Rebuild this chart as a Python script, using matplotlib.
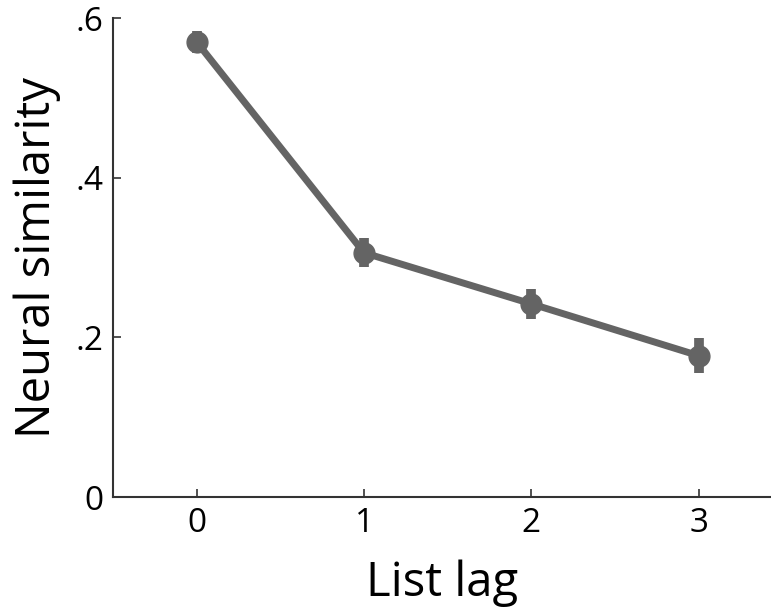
import matplotlib.pyplot as plt

lags = [0, 1, 2, 3]
similarity = [0.570, 0.306, 0.242, 0.177]
sem = [0.014, 0.018, 0.019, 0.022]
yticks = [0, 0.2, 0.4, 0.6]
ytick_labels = ['0', '.2', '.4', '.6']

plt.rcParams['font.family'] = ['Open Sans', 'DejaVu Sans']
col = '#646464'

fig = plt.figure(figsize=(7.71, 6.07), dpi=100)
ax = fig.add_axes([0.1466, 0.1812, 0.853, 0.789])

ax.errorbar(lags, similarity, yerr=sem, color=col, lw=5, marker='o', ms=15,
            elinewidth=7, capsize=0, solid_capstyle='butt')

ax.set_xlim(-0.5, 3.43)
ax.set_ylim(0, 0.6)
ax.set_xticks(lags)
ax.set_yticks(yticks)
ax.set_yticklabels(ytick_labels)
ax.spines['top'].set_visible(False)
ax.spines['right'].set_visible(False)
for s in ['left', 'bottom']:
    ax.spines[s].set_color('#333333')
    ax.spines[s].set_linewidth(1.5)
ax.tick_params(direction='in', length=6, width=1.2, color='#333333',
               labelsize=24, pad=7)
ax.set_xlabel('List lag', fontsize=34, labelpad=14)
ax.set_ylabel('Neural similarity', fontsize=34, labelpad=10)

fig.savefig('out.png', dpi=100)
